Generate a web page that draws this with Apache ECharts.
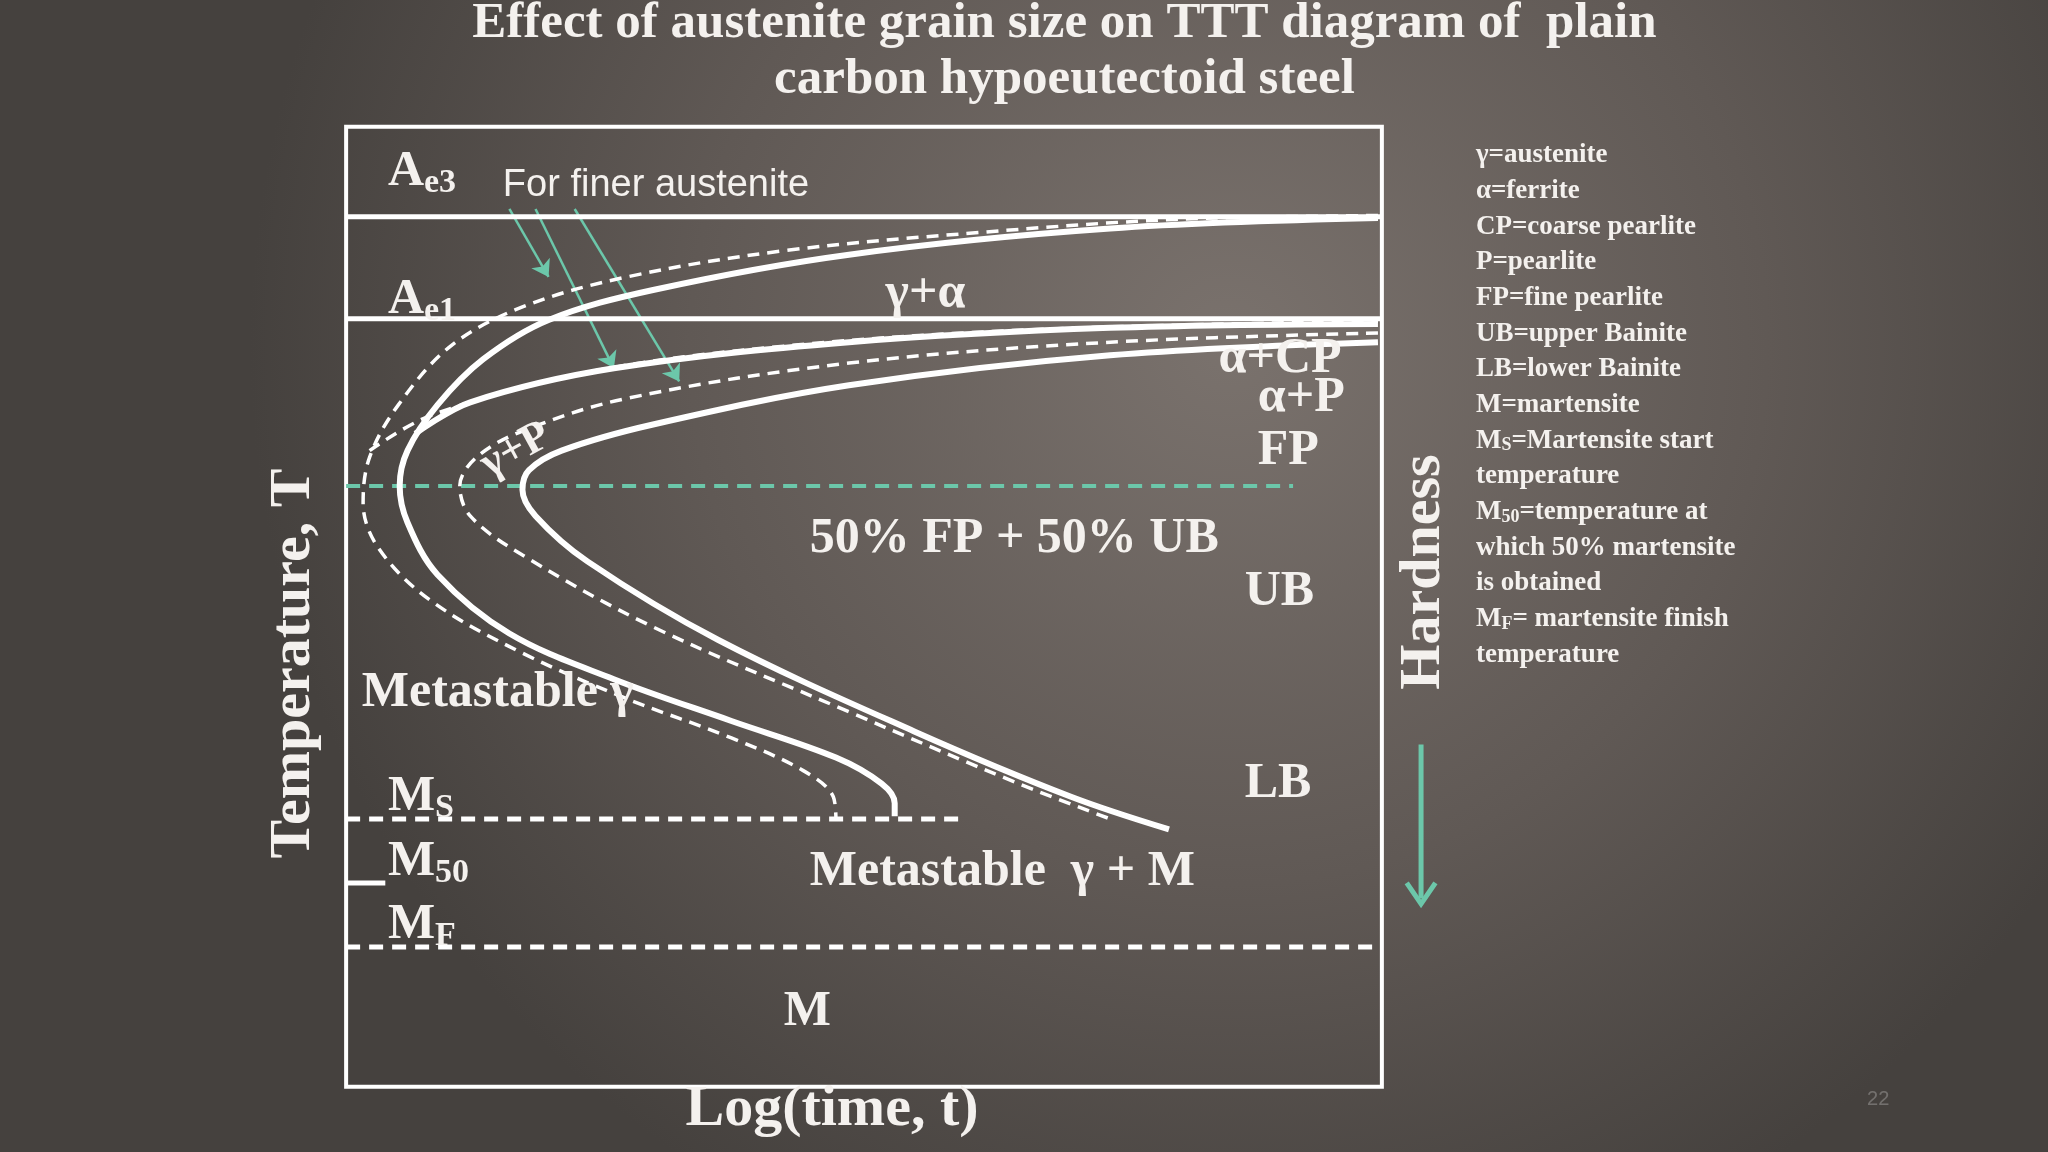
<!DOCTYPE html>
<html><head><meta charset="utf-8">
<script src="https://cdn.jsdelivr.net/npm/echarts@6/dist/echarts.min.js"></script>
<style>html,body{margin:0;padding:0;background:#4a4542}#main{width:2048px;height:1152px}</style>
</head><body><div id="main"></div>
<script>
// schematic TTT curves, x = log time units, y = temperature units
var startFine = [[790,667],[635,664],[485,654],[335,640],[215,620],[135,597],[80,567],[40,522],[18,482],[13,447],[25,412],[65,372],[135,332],[215,297],[295,267],[350,242],[373,222],[375,205]];
var startCoarse = [[790,665],[585,657],[385,637],[235,610],[155,587],[105,557],[70,522],[47,487],[41,460],[47,432],[70,392],[125,347],[205,312],[295,280],[375,252],[410,232],[420,217],[420,207]];
var pearliteFine = [[18,487],[65,514],[185,547],[335,567],[535,580],[790,586]];
var pearliteCoarse = [[53,500],[95,524],[205,550],[385,570],[585,581],[790,584]];
var finishFine = [[790,577],[585,570],[385,554],[215,527],[135,502],[100,482],[87,460],[95,437],[135,407],[235,352],[385,287],[515,232],[585,205]];
var finishCoarse = [[790,570],[585,560],[385,537],[235,507],[165,487],[140,472],[135,457],[145,437],[185,402],[285,342],[435,272],[555,222],[630,197]];
var tAe3 = 666, tAe1 = 588, tNose = 460, tMs = 205, tM50 = 156, tMf = 107;
var arrows = [[[125,672],[155,620]],[[145,672],[205,550]],[[175,672],[255,540]]];
var legendLines = ['γ=austenite','α=ferrite','CP=coarse pearlite','P=pearlite','FP=fine pearlite','UB=upper Bainite','LB=lower Bainite','M=martensite',
  '{t|M}{s|S}{t|=Martensite start}','temperature','{t|M}{s|50}{t|=temperature at}','which 50% martensite','is obtained','{t|M}{s|F}{t|= martensite finish}','temperature'];

var k = 2048/1568;
var W = '#ffffff', TEAL = '#6cc7aa', SERIF = '"Liberation Serif", "DejaVu Serif", serif';
function curve(d, dashed, w) {
  return {type:'line', data:d, smooth:0.35, symbol:'none', silent:true,
    lineStyle:{color:W, width:w||(dashed?3.5:6), type:dashed?[12,8]:'solid'}};
}
function hline(y, x0, x1, dashed, color, w) {
  return {type:'line', data:[[x0,y],[x1,y]], symbol:'none', silent:true, clip:false,
    lineStyle:{color:color||W, width:w||5, type:dashed?[14,9]:'solid'}};
}
function txt(x, y, s, size, extra) {
  var o = {type:'text', x:x*k, y:y*k, z:50, style:{text:s, fill:'#f4f1ee', font:'bold '+size+'px '+SERIF, textAlign:'left', textVerticalAlign:'middle'}};
  if (extra) for (var key in extra) o.style[key] = extra[key];
  return o;
}
var subRich = function(big, small, drop){ return {t:{fontSize:big, fontWeight:'bold', fontFamily:SERIF, fill:'#f4f1ee', color:'#f4f1ee'}, s:{fontSize:small, fontWeight:'bold', fontFamily:SERIF, color:'#f4f1ee', fill:'#f4f1ee', verticalAlign:'bottom', padding:[drop,0,0,0]}}; };

var graphics = [
  txt(815, 18, 'Effect of austenite grain size on TTT diagram of  plain', 51, {textAlign:'center'}),
  txt(815, 61, 'carbon hypoeutectoid steel', 51, {textAlign:'center'}),
  txt(297, 132, '{t|A}{s|e3}', 50, {rich:subRich(50,34,22)}),
  txt(297, 230, '{t|A}{s|e1}', 50, {rich:subRich(50,34,22)}),
  txt(385, 142, 'For finer austenite', 38, {font:'38px "Liberation Sans", Arial, sans-serif'}),
  txt(678, 225, 'γ+α', 50),
  txt(933, 275, 'α+CP', 50),
  txt(963, 305, 'α+P', 50),
  txt(963, 345, 'FP', 50),
  txt(620, 413, '50% FP + 50% UB', 50),
  txt(953, 453, 'UB', 50),
  txt(953, 600, 'LB', 50),
  txt(277, 531, 'Metastable γ', 50),
  txt(620, 668, 'Metastable  γ + M', 50),
  txt(600, 775, 'M', 50),
  txt(297, 610, '{t|M}{s|S}', 50, {rich:subRich(50,34,22)}),
  txt(297, 660, '{t|M}{s|50}', 50, {rich:subRich(50,34,22)}),
  txt(297, 708, '{t|M}{s|F}', 50, {rich:subRich(50,34,22)}),
  {type:'text', x:395*k, y:345*k, rotation:0.5, z:50, style:{text:'γ+P', fill:'#f4f1ee', font:'bold 44px '+SERIF, textAlign:'center', textVerticalAlign:'middle'}},
  {type:'text', x:225*k, y:508*k, rotation:Math.PI/2, z:50, style:{text:'Temperature, T', fill:'#f4f1ee', font:'bold 58px '+SERIF, textAlign:'center', textVerticalAlign:'middle'}},
  {type:'text', x:1090*k, y:438*k, rotation:Math.PI/2, z:50, style:{text:'Hardness', fill:'#f4f1ee', font:'bold 58px '+SERIF, textAlign:'center', textVerticalAlign:'middle'}},
  txt(637, 850, 'Log(time, t)', 58, {textAlign:'center'}),
  txt(1438, 842, '22', 20, {fill:'rgba(255,255,255,0.25)', font:'20px "Liberation Sans", sans-serif', textAlign:'center'}),
  {type:'line', z:50, shape:{x1:1088*k, y1:570*k, x2:1088*k, y2:688*k}, style:{stroke:TEAL, lineWidth:5}},
  {type:'polyline', z:50, shape:{points:[[1077*k,676*k],[1088*k,692*k],[1099*k,676*k]]}, style:{stroke:TEAL, lineWidth:5, fill:null}}
];
legendLines.forEach(function(s, i){
  graphics.push(txt(1130, 119 + i*27.3, s, 27, s.indexOf('{') >= 0 ? {rich:subRich(27,18,10)} : null));
});

var series = [
  hline(tAe3, 0, 793, false), hline(tAe1, 0, 793, false),
  hline(tNose, 0, 725, true, TEAL, 4),
  hline(tMs, 0, 470, true), hline(tM50, 0, 30, false), hline(tMf, 0, 793, true),
  curve(startFine, true), curve(startCoarse, false),
  curve(pearliteFine, true), curve(pearliteCoarse, false),
  curve(finishFine, true), curve(finishCoarse, false),
  {type:'lines', coordinateSystem:'cartesian2d', silent:true, symbol:['none','arrow'], symbolSize:16,
   lineStyle:{color:TEAL, width:2.5, opacity:1}, data:arrows.map(function(a){ return {coords:a}; })}
];

var chart = echarts.init(document.getElementById('main'));
chart.setOption({
  backgroundColor:{type:'radial', x:0.6, y:0.3, r:0.85, colorStops:[{offset:0,color:'#7a726d'},{offset:0.55,color:'#605955'},{offset:1,color:'#45413e'}]},
  animation:false,
  grid:{left:265*k, right:2048-1058*k, top:97*k, bottom:1152-832*k, show:true, borderColor:W, borderWidth:4, backgroundColor:'transparent'},
  xAxis:{type:'value', min:0, max:793, show:false},
  yAxis:{type:'value', min:0, max:735, show:false},
  series:series,
  graphic:graphics
});
</script>
</body></html>
